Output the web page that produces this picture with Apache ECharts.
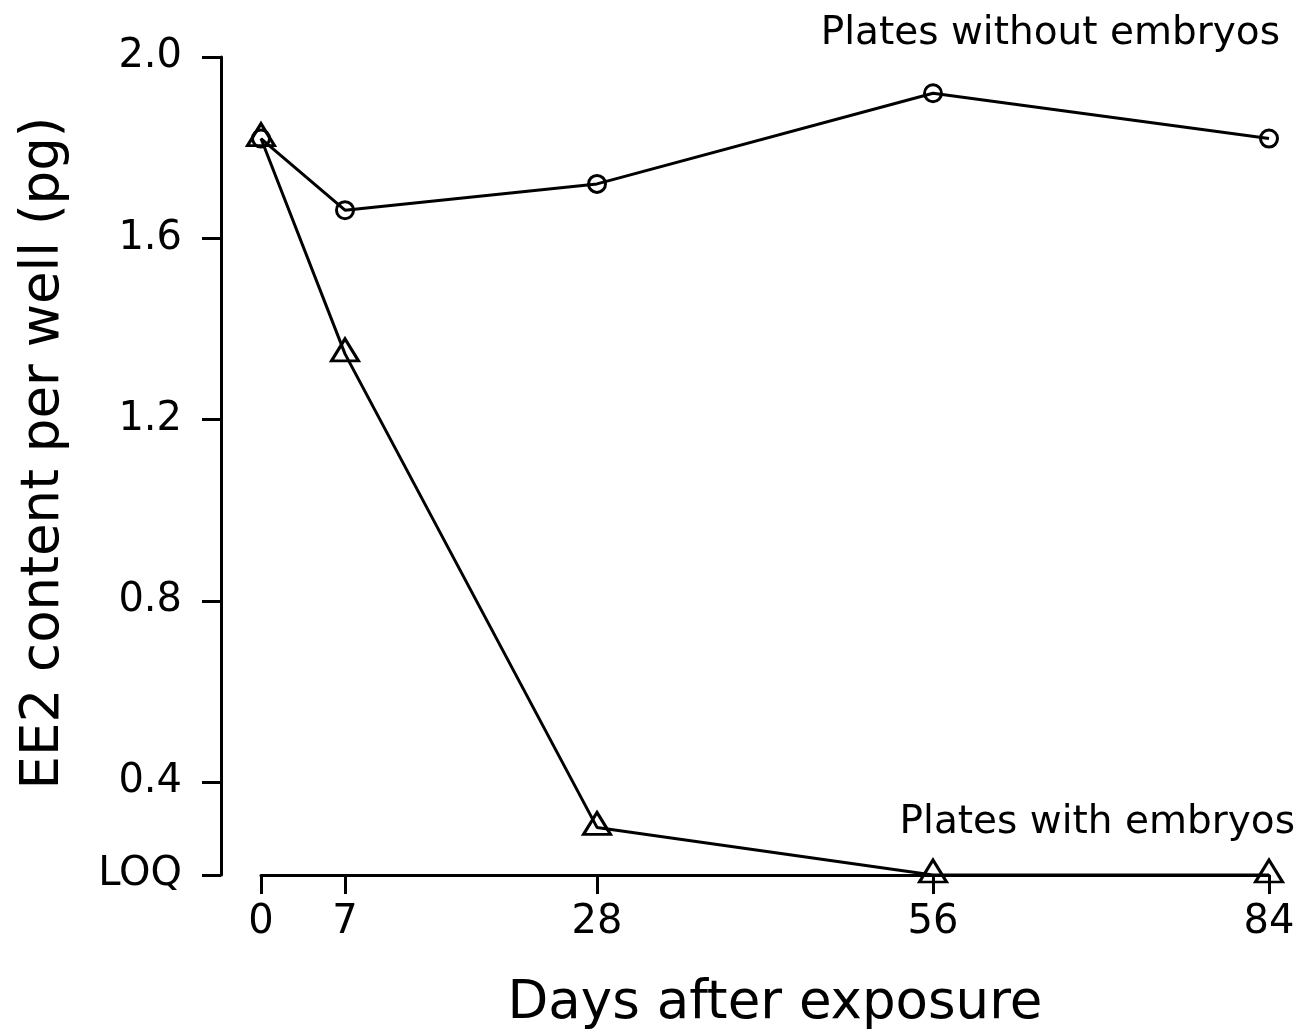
<!DOCTYPE html>
<html>
<head>
<meta charset="utf-8">
<script src="https://cdn.jsdelivr.net/npm/echarts@6/dist/echarts.min.js"></script>
<style>html,body{margin:0;padding:0;background:#fff}#c{width:1302px;height:1032px}</style>
</head>
<body>
<div id="c"></div>
<script>
var LOQ = 0.195;
var days = [0, 7, 28, 56, 84];
var withoutEmbryos = [1.82, 1.662, 1.72, 1.92, 1.82];
var withEmbryos = [1.82, 1.345, 0.30, LOQ, LOQ];
var yTicks = [LOQ, 0.4, 0.8, 1.2, 1.6, 2.0];
var xTicks = [0, 7, 28, 56, 84];

var FONT = 'DejaVu Sans';
var chart = echarts.init(document.getElementById('c'));
function pairs(xs, ys){ return xs.map(function(x,i){ return [x, ys[i]]; }); }

chart.setOption({
  animation: false,
  backgroundColor: '#fff',
  textStyle: { fontFamily: FONT, color: '#000' },
  grid: { left: 261, right: 33, top: 57, bottom: 157, containLabel: false, outerBoundsMode: 'none' },
  xAxis: {
    type: 'value', min: 0, max: 84,
    name: 'Days after exposure', nameLocation: 'middle', nameGap: 103,
    nameTextStyle: { fontSize: 53, fontFamily: FONT, color: '#000', padding: [0, 0, 0, 20] },
    axisLine: { show: true, onZero: false, lineStyle: { color: '#000', width: 3 } },
    axisTick: { show: true, length: 19, customValues: xTicks, lineStyle: { color: '#000', width: 3 } },
    axisLabel: { customValues: xTicks, fontSize: 40, fontFamily: FONT, color: '#000', margin: 28 },
    splitLine: { show: false }
  },
  yAxis: {
    type: 'value', min: LOQ, max: 2.0, offset: 40,
    name: 'EE2 content per well (pg)', nameLocation: 'middle', nameGap: 150, nameRotate: 90,
    nameTextStyle: { fontSize: 53, fontFamily: FONT, color: '#000', padding: [0, 0, 0, 26] },
    axisLine: { show: true, onZero: false, lineStyle: { color: '#000', width: 3 } },
    axisTick: { show: true, length: 19, customValues: yTicks, lineStyle: { color: '#000', width: 3 } },
    axisLabel: {
      customValues: yTicks, fontSize: 40, fontFamily: FONT, color: '#000', margin: 39,
      formatter: function(v){ return Math.abs(v - LOQ) < 1e-6 ? 'LOQ' : v.toFixed(1); }
    },
    splitLine: { show: false }
  },
  series: [
    {
      name: 'Plates without embryos', type: 'line', clip: false,
      data: pairs(days, withoutEmbryos),
      symbol: 'circle', symbolSize: 17,
      lineStyle: { color: '#000', width: 3 },
      itemStyle: { color: 'rgba(0,0,0,0)', borderColor: '#000', borderWidth: 3 },
      z: 3
    },
    {
      name: 'Plates with embryos', type: 'line', clip: false,
      data: pairs(days, withEmbryos),
      symbol: 'triangle', symbolSize: [27, 22], symbolOffset: [0, -4],
      lineStyle: { color: '#000', width: 3 },
      itemStyle: { color: 'rgba(0,0,0,0)', borderColor: '#000', borderWidth: 3 },
      z: 3
    }
  ],
  graphic: [
    { type: 'text', z: 10, style: { text: 'Plates without embryos', x: 1280, y: 34, align: 'right', verticalAlign: 'middle', font: '39px "DejaVu Sans"', fill: '#000' } },
    { type: 'text', z: 10, style: { text: 'Plates with embryos', x: 1295, y: 823, align: 'right', verticalAlign: 'middle', font: '39px "DejaVu Sans"', fill: '#000' } }
  ]
});
</script>
</body>
</html>
